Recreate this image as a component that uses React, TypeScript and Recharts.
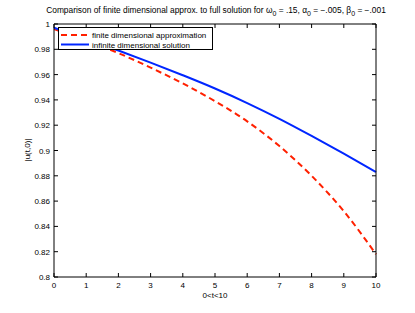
import React from 'react';
import { LineChart, Line, XAxis, YAxis, Legend } from 'recharts';

const tValues = [0, 1, 2, 3, 4, 5, 6, 7, 8, 9, 10];
const finiteApprox = [0.996, 0.987, 0.977, 0.9655, 0.953, 0.939, 0.923, 0.9035, 0.88, 0.852, 0.818];
const infiniteSolution = [0.997, 0.988, 0.979, 0.9695, 0.9595, 0.949, 0.9375, 0.925, 0.9115, 0.8975, 0.883];
const xTicks = [0, 1, 2, 3, 4, 5, 6, 7, 8, 9, 10];
const yTicks = [0.8, 0.82, 0.84, 0.86, 0.88, 0.9, 0.92, 0.94, 0.96, 0.98, 1];
const seriesNames = ['finite dimensional approximation', 'infinite dimensional solution'];
const xLabel = '0<t<10';
const yLabel = '|u(t,0)|';

const data = tValues.map((t, i) => ({ t, finite: finiteApprox[i], infinite: infiniteSolution[i] }));

const FONT = '"Liberation Sans", Arial, Helvetica, sans-serif';
const RED = '#ff2000';
const BLUE = '#0026ff';

const fmt = (v: number) => String(Number(v.toFixed(2)));

const XTick = (props: any) => {
  const { x, y, payload } = props;
  return (
    <g>
      <line x1={x} x2={x} y1={y} y2={y - 4} stroke="#000" strokeWidth={1} />
      <text x={x} y={y + 11} textAnchor="middle" fontSize={8} fontFamily={FONT} fill="#000">
        {fmt(payload.value)}
      </text>
    </g>
  );
};
const XTopTick = (props: any) => {
  const { x, y } = props;
  return <line x1={x} x2={x} y1={y} y2={y + 4} stroke="#000" strokeWidth={1} />;
};
const YTick = (props: any) => {
  const { x, y, payload } = props;
  return (
    <g>
      <line x1={x} x2={x + 4} y1={y} y2={y} stroke="#000" strokeWidth={1} />
      <text x={x - 4} y={y + 3} textAnchor="end" fontSize={8} fontFamily={FONT} fill="#000">
        {fmt(payload.value)}
      </text>
    </g>
  );
};
const YRightTick = (props: any) => {
  const { x, y } = props;
  return <line x1={x} x2={x - 4} y1={y} y2={y} stroke="#000" strokeWidth={1} />;
};

const LegendBox = () => (
  <div
    style={{
      width: 155,
      height: 23,
      border: '1px solid #000',
      background: '#fff',
      fontFamily: FONT,
      fontSize: 8,
      boxSizing: 'border-box',
    }}
  >
    <svg width={155} height={23} style={{ display: 'block' }}>
      <line x1={2} x2={30} y1={7} y2={7} stroke={RED} strokeWidth={2} strokeDasharray="6 4" />
      <text x={33} y={10} fontSize={8} fontFamily={FONT} fill="#000">{seriesNames[0]}</text>
      <line x1={2} x2={30} y1={16.5} y2={16.5} stroke={BLUE} strokeWidth={2} />
      <text x={33} y={19.5} fontSize={8} fontFamily={FONT} fill="#000">{seriesNames[1]}</text>
    </svg>
  </div>
);

export default function App() {
  return (
    <div style={{ position: 'absolute', left: 0, top: 0, width: 415, height: 313, background: '#fff' }}>
      <div
        style={{
          position: 'absolute',
          left: 0,
          top: 5,
          width: 432,
          textAlign: 'center',
          fontFamily: FONT,
          fontSize: 8.4,
          lineHeight: '10px',
          whiteSpace: 'nowrap',
        }}
      >
        Comparison of finite dimensional approx. to full solution for ω<sub style={{ fontSize: 7 }}>0</sub> = .15, α
        <sub style={{ fontSize: 7 }}>0</sub> = −.005, β<sub style={{ fontSize: 7 }}>0</sub> = −.001
      </div>
      <div
        style={{
          position: 'absolute',
          left: 54,
          top: 291,
          width: 322,
          textAlign: 'center',
          fontFamily: FONT,
          fontSize: 8,
        }}
      >
        {xLabel}
      </div>
      <div
        style={{
          position: 'absolute',
          left: 27,
          top: 150,
          transform: 'translate(-50%, -50%) rotate(-90deg)',
          fontFamily: FONT,
          fontSize: 8,
          whiteSpace: 'nowrap',
        }}
      >
        {yLabel}
      </div>
      <LineChart
        width={415}
        height={313}
        data={data}
        margin={{ top: 23, right: 38, bottom: 35, left: 53 }}
      >
        <XAxis
          dataKey="t"
          type="number"
          domain={[0, 10]}
          ticks={xTicks}
          height={1}
          tickSize={0}
          tickMargin={0}
          tick={<XTick />}
          axisLine={{ stroke: '#000', strokeWidth: 1 }}
          tickLine={false}
          interval={0}
        />
        <XAxis
          xAxisId="top"
          orientation="top"
          dataKey="t"
          type="number"
          domain={[0, 10]}
          ticks={xTicks}
          height={1}
          tickSize={0}
          tickMargin={0}
          tick={<XTopTick />}
          axisLine={{ stroke: '#000', strokeWidth: 1 }}
          tickLine={false}
          interval={0}
        />
        <YAxis
          type="number"
          domain={[0.8, 1]}
          ticks={yTicks}
          width={1}
          tickSize={0}
          tickMargin={0}
          tick={<YTick />}
          axisLine={{ stroke: '#000', strokeWidth: 1 }}
          tickLine={false}
          interval={0}
          allowDataOverflow
        />
        <YAxis
          yAxisId="right"
          orientation="right"
          type="number"
          domain={[0.8, 1]}
          ticks={yTicks}
          width={1}
          tickSize={0}
          tickMargin={0}
          tick={<YRightTick />}
          axisLine={{ stroke: '#000', strokeWidth: 1 }}
          tickLine={false}
          interval={0}
          allowDataOverflow
        />
        <Legend
          layout="vertical"
          align="center"
          verticalAlign="middle"
          content={() => <LegendBox />}
          wrapperStyle={{ position: 'absolute', left: 58, top: 27, width: 155, height: 23 }}
        />
        <Line
          type="monotone"
          dataKey="finite"
          stroke={RED}
          strokeWidth={2}
          strokeDasharray="6 4"
          dot={false}
          isAnimationActive={false}
          name={seriesNames[0]}
        />
        <Line
          type="monotone"
          dataKey="infinite"
          stroke={BLUE}
          strokeWidth={2}
          dot={false}
          isAnimationActive={false}
          name={seriesNames[1]}
        />
      </LineChart>
    </div>
  );
}
